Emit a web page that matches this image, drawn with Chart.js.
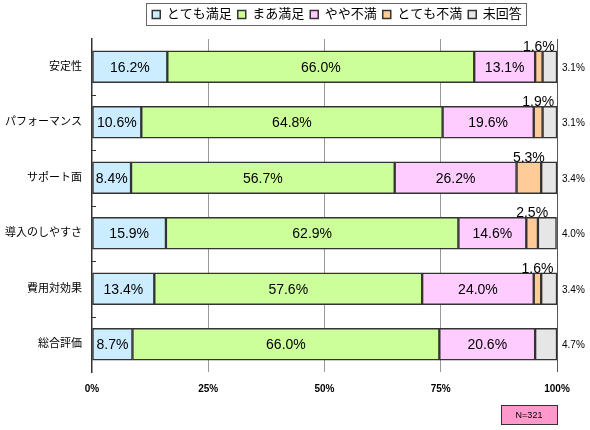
<!DOCTYPE html>
<html>
<head>
<meta charset="utf-8">
<script src="https://cdn.jsdelivr.net/npm/chart.js@4/dist/chart.umd.min.js"></script>
<style>
  html, body { margin: 0; padding: 0; background: #fff; }
  #wrap { width: 590px; height: 430px; position: relative; }
</style>
</head>
<body>
<div id="wrap"><canvas id="satisfaction"></canvas></div>
<script>
// 満足度の回答データ (%)
const categories = ['安定性', 'パフォーマンス', 'サポート面', '導入のしやすさ', '費用対効果', '総合評価'];
const seriesNames = ['とても満足', 'まあ満足', 'やや不満', 'とても不満', '未回答'];
const veryGood = [16.2, 10.6, 8.4, 15.9, 13.4, 8.7];
const good = [66.0, 64.8, 56.7, 62.9, 57.6, 66.0];
const slightlyBad = [13.1, 19.6, 26.2, 14.6, 24.0, 20.6];
const veryBad = [1.6, 1.9, 5.3, 2.5, 1.6, 0];
const noAnswer = [3.1, 3.1, 3.4, 4.0, 3.4, 4.7];
const xTicks = [0, 25, 50, 75, 100];
const sampleNote = 'N=321';

const colors = ['#CCECFF', '#CCFF99', '#FFCCFF', '#FFCC99', '#E6E6E6'];
const values = [veryGood, good, slightlyBad, veryBad, noAnswer];
const FONT = "'Liberation Sans', 'Noto Sans CJK JP', sans-serif";
const LEGEND_PAD = 6;
const LEGEND_SIZE = 13;

// 凡例の下に余白を足し、少し右へ寄せる
const legendSpace = {
  id: 'legendSpace',
  beforeInit(chart) {
    const fit = chart.legend.fit;
    chart.legend.fit = function () {
      fit.call(this);
      this.height += 8;
    };
  },
  afterLayout(chart) {
    const lg = chart.legend;
    const shift = 340 - (lg.left + LEGEND_PAD + lg.right) / 2;
    lg.left += shift;
    lg.right += shift;
  }
};

// ラベルと凡例の枠、N= の箱を描く
const labelPlugin = {
  id: 'labels',
  afterDatasetsDraw(chart) {
    const c = chart.ctx;
    const area = chart.chartArea;
    c.save();
    chart.data.datasets.forEach((ds, i) => {
      const meta = chart.getDatasetMeta(i);
      meta.data.forEach((bar, j) => {
        const v = ds.data[j];
        if (!v) return;
        const txt = v.toFixed(1) + '%';
        c.fillStyle = '#000';
        if (i < 3) {
          c.font = '14px ' + FONT;
          c.textAlign = 'center';
          c.textBaseline = 'middle';
          c.fillText(txt, (bar.x + bar.base) / 2, bar.y + 1);
        } else if (i === 3) {
          c.font = '14px ' + FONT;
          c.textAlign = 'center';
          c.textBaseline = 'bottom';
          c.fillText(txt, (bar.x + bar.base) / 2, bar.y - bar.height / 2 + 3);
        } else {
          c.font = '10px ' + FONT;
          c.textAlign = 'left';
          c.textBaseline = 'middle';
          c.fillText(txt, area.right + 5, bar.y + 1);
        }
      });
    });
    // y軸の内向きの目盛り (項目の境目)
    const ys = chart.scales.y;
    c.strokeStyle = '#333';
    c.lineWidth = 1;
    for (let k = 1; k < categories.length; k++) {
      const py = Math.round(ys.getPixelForValue(k - 0.5)) + 0.5;
      c.beginPath();
      c.moveTo(area.left, py);
      c.lineTo(area.left + 4, py);
      c.stroke();
    }
    c.restore();
  },
  afterDraw(chart) {
    const c = chart.ctx;
    const lg = chart.legend;
    c.save();
    // 凡例の枠
    const rowW = lg.lineWidths[0];
    const x0 = (lg.left + LEGEND_PAD + lg.right - rowW) / 2;
    const l = Math.round(x0 - 6);
    const r = Math.round(x0 + rowW - LEGEND_PAD + 4);
    const t = Math.round(lg.top + LEGEND_PAD - 5);
    const b = t + LEGEND_SIZE + 9;
    c.strokeStyle = '#666';
    c.lineWidth = 1;
    c.strokeRect(l + 0.5, t + 0.5, r - l, b - t);
    // N= の箱
    const area = chart.chartArea;
    const w = 56, h = 19;
    const x = Math.round(area.right - w), y = 405;
    c.fillStyle = '#FF99CC';
    c.fillRect(x, y, w, h);
    c.strokeStyle = '#333';
    c.strokeRect(x + 0.5, y + 0.5, w, h);
    c.fillStyle = '#000';
    c.font = '9px ' + FONT;
    c.textAlign = 'center';
    c.textBaseline = 'middle';
    c.fillText(sampleNote, x + w / 2, y + h / 2 + 1);
    c.restore();
  }
};

new Chart(document.getElementById('satisfaction'), {
  type: 'bar',
  data: {
    labels: categories,
    datasets: seriesNames.map((name, i) => ({
      label: name,
      data: values[i],
      backgroundColor: colors[i],
      borderColor: '#333',
      borderWidth: 1.5,
      borderSkipped: false,
      barThickness: 32
    }))
  },
  options: {
    indexAxis: 'y',
    responsive: true,
    maintainAspectRatio: false,
    animation: false,
    layout: { padding: { left: 0, right: 33, top: 2, bottom: 28 } },
    scales: {
      x: {
        stacked: true,
        min: 0,
        max: 100,
        afterBuildTicks: (s) => { s.ticks = xTicks.map(v => ({ value: v })); },
        afterFit: (s) => { s.height = 30; },
        border: { display: false },
        grid: {
          drawTicks: false,
          color: (ctx) => ctx.tick && ctx.tick.value === 100 ? '#555' : (ctx.tick && ctx.tick.value === 0 ? 'rgba(0,0,0,0)' : '#999'),
          lineWidth: 1
        },
        ticks: {
          padding: 11,
          color: '#000',
          font: { family: FONT, size: 10, weight: 'bold' },
          callback: (v) => v + '%'
        }
      },
      y: {
        stacked: true,
        afterFit: (s) => { s.width = 92; },
        border: { display: true, color: '#333', width: 1.5 },
        grid: { display: false, drawTicks: false },
        ticks: {
          padding: 10,
          color: '#000',
          font: { family: FONT, size: 11 }
        }
      }
    },
    plugins: {
      legend: {
        position: 'top',
        labels: {
          boxWidth: 8,
          boxHeight: 8,
          padding: LEGEND_PAD,
          color: '#000',
          font: { family: FONT, size: LEGEND_SIZE },
          useBorderRadius: false
        },
        onClick: null
      },
      tooltip: { enabled: false }
    }
  },
  plugins: [legendSpace, labelPlugin]
});
</script>
</body>
</html>
